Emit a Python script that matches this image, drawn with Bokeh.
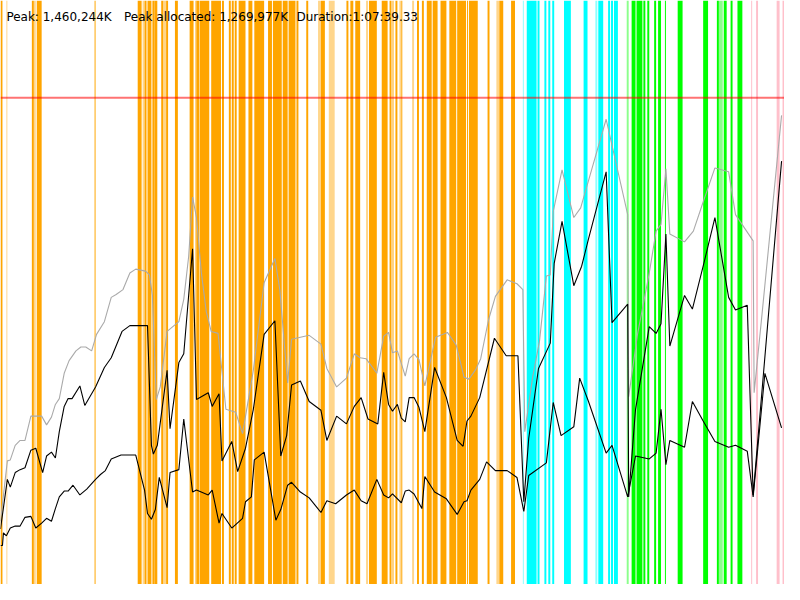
from bokeh.plotting import figure
from bokeh.models import Range1d, Span, Label
from bokeh.embed import file_html
from bokeh.resources import INLINE

# ---------------- data ----------------
# time position (0..800) and memory level (0..600, red peak line at 500)
gray_x = [0, 7, 10, 15, 20, 25, 31, 42, 47, 52, 56, 60, 65, 70, 77, 82, 87, 93, 98, 106, 113, 118, 125, 132, 138, 143, 148, 152, 155, 159, 163, 170, 182, 187, 192, 196, 200, 205, 210, 215, 222, 230, 240, 247, 258, 269, 280, 285, 293, 297, 315, 327, 333, 343, 353, 361, 367, 373, 384, 391, 396, 400, 405, 413, 417, 422, 427, 433, 444, 456, 465, 473, 478, 485, 490, 498, 505, 517, 527, 533, 535, 543, 550, 557, 561, 564, 573, 585, 592, 600, 618, 640, 641, 650, 662, 669, 674, 679, 683, 698, 707, 717, 729, 743, 750, 768, 769, 777, 797]
gray_v = [65, 127, 128, 143, 148, 148, 173, 173, 164, 172, 185, 191, 217, 230, 240, 244, 244, 240, 257, 270, 295, 298, 303, 320, 324, 323, 322, 318, 297, 190, 203, 260, 270, 293, 337, 398, 377, 320, 280, 260, 258, 180, 177, 155, 220, 310, 335, 303, 207, 252, 256, 247, 222, 203, 212, 237, 233, 232, 217, 255, 259, 238, 240, 214, 232, 237, 231, 204, 254, 259, 246, 213, 211, 221, 232, 272, 296, 313, 309, 303, 157, 213, 250, 317, 318, 383, 426, 377, 387, 415, 478, 380, 193, 257, 320, 363, 370, 427, 360, 352, 363, 393, 428, 424, 380, 353, 197, 277, 482]

upper_x = [0, 7, 10, 15, 20, 25, 31, 36, 43, 47, 52, 56, 60, 65, 69, 73, 81, 86, 97, 106, 113, 124, 132, 150, 154, 156, 160, 170, 173, 182, 187, 196, 200, 212, 216, 223, 226, 236, 242, 250, 258, 269, 280, 286, 292, 297, 306, 315, 327, 333, 343, 353, 361, 368, 375, 385, 391, 396, 400, 405, 409, 413, 417, 422, 427, 433, 443, 455, 466, 472, 476, 480, 489, 504, 516, 528, 534, 539, 549, 561, 565, 573, 585, 593, 600, 618, 624, 640, 641, 648, 662, 669, 674, 679, 683, 698, 706, 717, 729, 743, 750, 762, 768, 797]
upper_v = [57, 108, 100, 115, 118, 120, 138, 140, 115, 132, 136, 130, 157, 183, 191, 191, 204, 184, 203, 223, 233, 260, 266, 266, 143, 134, 143, 220, 160, 228, 237, 345, 190, 197, 183, 196, 127, 147, 116, 140, 180, 257, 271, 132, 153, 205, 209, 188, 179, 148, 173, 165, 183, 192, 170, 165, 218, 185, 178, 185, 171, 167, 192, 192, 182, 157, 223, 192, 148, 142, 168, 173, 192, 253, 235, 235, 85, 150, 222, 248, 330, 373, 307, 327, 355, 424, 269, 288, 90, 180, 265, 258, 268, 360, 245, 297, 283, 327, 377, 295, 282, 287, 92, 435]

lower_x = [0, 2, 3, 6, 10, 15, 20, 25, 31, 36, 42, 47, 52, 56, 60, 65, 69, 74, 81, 88, 97, 102, 107, 113, 123, 138, 147, 150, 154, 158, 162, 170, 173, 182, 187, 196, 200, 212, 216, 223, 226, 236, 247, 250, 256, 259, 269, 281, 286, 293, 297, 306, 315, 327, 333, 342, 353, 361, 368, 374, 384, 391, 396, 400, 409, 413, 417, 422, 430, 433, 443, 455, 466, 473, 476, 480, 489, 496, 505, 517, 527, 534, 539, 557, 564, 572, 585, 591, 600, 618, 624, 640, 648, 662, 669, 674, 679, 683, 698, 706, 717, 729, 743, 750, 762, 768, 780, 797]
lower_v = [40, 40, 53, 50, 58, 60, 60, 69, 70, 58, 63, 68, 65, 78, 90, 96, 96, 102, 92, 98, 108, 113, 117, 129, 133, 133, 97, 73, 67, 77, 110, 79, 115, 118, 170, 95, 97, 92, 97, 63, 73, 58, 68, 85, 90, 128, 136, 66, 77, 102, 105, 95, 89, 74, 86, 83, 92, 97, 86, 83, 108, 92, 89, 93, 84, 96, 97, 93, 78, 111, 95, 88, 72, 85, 86, 97, 108, 126, 117, 117, 110, 75, 112, 125, 187, 153, 162, 212, 188, 135, 143, 90, 132, 129, 135, 180, 123, 148, 141, 188, 168, 147, 141, 143, 137, 90, 217, 161]

peak_level = 500

# event bands: start, end, faint flag
orange_start = [0, 6, 32, 34, 37, 96, 140, 145, 147, 150, 155, 157, 164, 166, 169, 178, 193, 199, 200, 203.5, 215, 226, 233, 236, 239, 243, 253, 259, 273, 278, 288, 294, 302, 312, 324, 327, 335, 353, 357, 362, 373, 376, 389, 397, 400, 403, 407, 409, 420, 425, 430, 435, 441, 449, 458, 466, 476, 478, 497, 506, 509, 521]
orange_end   = [2, 7, 34, 36, 42, 97, 144, 147, 149, 154, 157, 160, 166, 169, 171, 181, 197, 200, 203, 213, 225, 228, 235, 238, 241, 250, 257, 269, 277, 287, 293, 301, 304, 314, 327, 331, 341, 355, 360, 367, 375, 384, 395, 399, 401, 405, 409, 410, 422, 427, 432, 440, 446, 455, 465, 475, 477, 487, 499, 509, 513, 525]
orange_faint = [0, 1, 0, 1, 0, 0, 0, 1, 0, 0, 0, 0, 0, 1, 0, 0, 0, 0, 0, 0, 0, 0, 0, 0, 0, 0, 0, 0, 0, 0, 0, 0, 0, 0, 1, 0, 1, 0, 0, 0, 1, 0, 0, 0, 0, 0, 1, 0, 1, 0, 0, 0, 0, 0, 0, 0, 0, 0, 0, 1, 0, 0]

cyan_start = [533, 537, 548, 555, 559, 563, 575, 595, 607, 610, 620, 623, 626]
cyan_end   = [534, 547, 550, 557, 561, 565, 582, 599, 609, 615, 622, 625, 630]
cyan_faint = [1, 0, 0, 0, 0, 0, 0, 0, 1, 0, 0, 0, 0]

green_start = [639, 644, 649, 656, 660, 667, 671, 678, 691, 717, 731, 733, 738, 745, 752]
green_end   = [641, 648, 655, 658, 662, 669, 674, 679, 696, 722, 733, 737, 741, 747, 757]
green_faint = [1, 0, 0, 0, 0, 0, 0, 0, 0, 0, 0, 1, 0, 0, 0]

pink_start = [766, 771, 792, 798]
pink_end   = [767, 773, 795, 800]
pink_faint = [0, 0, 0, 0]

header_texts = ["Peak: 1,460,244K", "Peak allocated: 1,269,977K", "Duration:1:07:39.33"]
header_x = [6, 126, 302]

# ---------------- plot ----------------
W, H = 784, 584
p = figure(width=W, height=H, output_backend="svg", toolbar_location=None,
           x_range=Range1d(0, 800), y_range=Range1d(0, 600), min_border=0)
p.axis.visible = False
p.xgrid.visible = False
p.ygrid.visible = False
p.outline_line_color = None
p.background_fill_color = "white"
p.border_fill_color = "white"

def bands(starts, ends, faint, color):
    alphas = [0.45 if f else 1.0 for f in faint]
    p.quad(left=starts, right=ends, bottom=0, top=600, fill_color=color,
           fill_alpha=alphas, line_color=None)

bands(orange_start, orange_end, orange_faint, "#FFA500")
bands(cyan_start, cyan_end, cyan_faint, "#00FFFF")
bands(green_start, green_end, green_faint, "#00FF00")
bands(pink_start, pink_end, pink_faint, "#FFC0CB")

p.add_layout(Span(location=peak_level, dimension="width", line_color="red",
                  line_alpha=0.55, line_width=2))

p.line(gray_x, gray_v, line_color="#AAAAAA", line_width=1.1)
p.line(upper_x, upper_v, line_color="black", line_width=1.1)
p.line(lower_x, lower_v, line_color="black", line_width=1.1)

for t, x in zip(header_texts, header_x):
    p.add_layout(Label(x=x, y=583, text=t, text_font="DejaVu Sans",
                       text_font_size="12px", text_color="black",
                       text_baseline="alphabetic", text_align="left"))

open("out.html", "w").write(file_html(p, INLINE))
